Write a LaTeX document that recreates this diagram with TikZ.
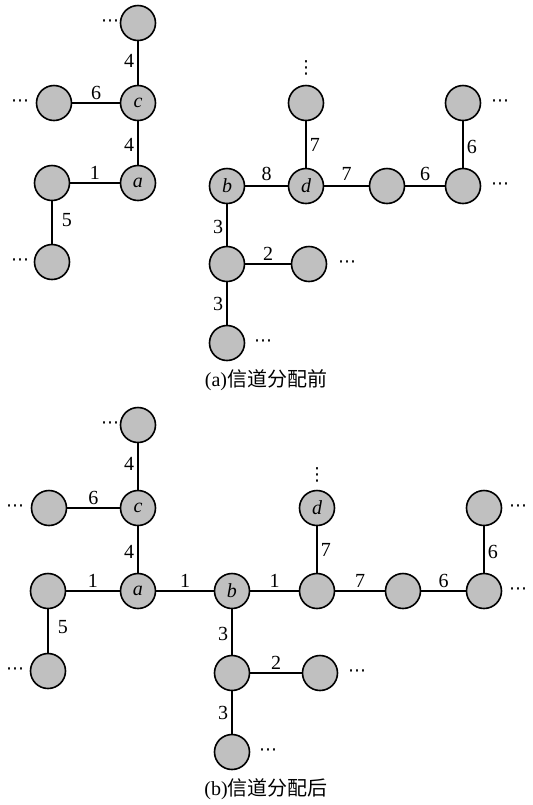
\documentclass[tikz,border=0pt]{standalone}
\usepackage{fontspec}
\setmainfont{Liberation Serif}
\newfontfamily\cjk{Noto Sans CJK SC}
\newfontfamily\symf{DejaVu Sans}
\definecolor{nodegray}{RGB}{192,192,192}
\newcommand{\hdts}{{\symf\small ⋯}}
\newcommand{\vdts}{{\symf\small ⋮}}
\begin{document}
\begin{tikzpicture}[x=0.5pt,y=-0.5pt,
  vtx/.style={circle,draw=black,line width=0.8pt,fill=nodegray,minimum size=17.5pt,inner sep=0pt,font=\itshape},
  link/.style={line width=0.8pt},
  wt/.style={font=\normalsize,inner sep=1.5pt},
  dotsn/.style={inner sep=0pt}]
\useasboundingbox (0,0) rectangle (532,805);
% ---------- (a) ----------
\node[vtx] (at) at (138,23) {};
\node[vtx] (c1) at (138,103) {c};
\node[vtx] (c1l) at (54,103) {};
\node[vtx] (a1) at (138,183) {a};
\node[vtx] (a1l) at (52,183) {};
\node[vtx] (a1lb) at (52,262) {};
\node[vtx] (b1) at (227,186) {b};
\node[vtx] (d1) at (306,186) {d};
\node[vtx] (d1t) at (306,103) {};
\node[vtx] (r1) at (387,186) {};
\node[vtx] (r2) at (463,186) {};
\node[vtx] (r2t) at (463,103) {};
\node[vtx] (b1c) at (227,264) {};
\node[vtx] (b1cr) at (309,264) {};
\node[vtx] (b1cb) at (227,343) {};
\node[dotsn] (q1) at (110,23) {\hdts};
\node[dotsn] (q2) at (20,103) {\hdts};
\node[dotsn] (q3) at (20,262) {\hdts};
\node[dotsn] (q4) at (306,68) {\vdts};
\node[dotsn] (q5) at (500,103) {\hdts};
\node[dotsn] (q6) at (500,186) {\hdts};
\node[dotsn] (q7) at (347,264) {\hdts};
\node[dotsn] (q8) at (263,343) {\hdts};
\draw[link] (at) -- node[wt,left,pos=0.45] {4} (c1);
\draw[link] (c1l) -- node[wt,above] {6} (c1);
\draw[link] (c1) -- node[wt,left,pos=0.55] {4} (a1);
\draw[link] (a1l) -- node[wt,above] {1} (a1);
\draw[link] (a1l) -- node[wt,right,xshift=3pt,pos=0.45] {5} (a1lb);
\draw[link] (b1) -- node[wt,above,yshift=1pt] {8} (d1);
\draw[link] (d1t) -- node[wt,right,pos=0.52] {7} (d1);
\draw[link] (d1) -- node[wt,above,yshift=1pt] {7} (r1);
\draw[link] (r1) -- node[wt,above,yshift=1pt] {6} (r2);
\draw[link] (r2t) -- node[wt,right,pos=0.55] {6} (r2);
\draw[link] (b1) -- node[wt,left,pos=0.55] {3} (b1c);
\draw[link] (b1c) -- node[wt,above] {2} (b1cr);
\draw[link] (b1c) -- node[wt,left,pos=0.5] {3} (b1cb);
\node (capa) at (266,380) {(a){\cjk 信道分配前}};
% ---------- (b) ----------
\node[vtx] (t2) at (138,425) {};
\node[vtx] (c2) at (138,508) {c};
\node[vtx] (c2l) at (49,508) {};
\node[vtx] (a2) at (138,591) {a};
\node[vtx] (a2l) at (48,591) {};
\node[vtx] (a2lb) at (48,671) {};
\node[vtx] (b2) at (232,591) {b};
\node[vtx] (e2) at (317,591) {};
\node[vtx] (d2) at (317,508) {d};
\node[vtx] (r3) at (403,591) {};
\node[vtx] (r4) at (484,591) {};
\node[vtx] (r4t) at (484,508) {};
\node[vtx] (b2c) at (232,673) {};
\node[vtx] (b2cr) at (320,673) {};
\node[vtx] (b2cb) at (232,752) {};
\node[dotsn] (p1) at (110,425) {\hdts};
\node[dotsn] (p2) at (15,508) {\hdts};
\node[dotsn] (p3) at (15,671) {\hdts};
\node[dotsn] (p4) at (317,475) {\vdts};
\node[dotsn] (p5) at (518,508) {\hdts};
\node[dotsn] (p6) at (518,591) {\hdts};
\node[dotsn] (p7) at (357,673) {\hdts};
\node[dotsn] (p8) at (268,752) {\hdts};
\draw[link] (t2) -- node[wt,left,pos=0.45] {4} (c2);
\draw[link] (c2l) -- node[wt,above] {6} (c2);
\draw[link] (c2) -- node[wt,left,pos=0.55] {4} (a2);
\draw[link] (a2l) -- node[wt,above] {1} (a2);
\draw[link] (a2l) -- node[wt,right,xshift=3pt,pos=0.4] {5} (a2lb);
\draw[link] (a2) -- node[wt,above] {1} (b2);
\draw[link] (b2) -- node[wt,above] {1} (e2);
\draw[link] (d2) -- node[wt,right,pos=0.5] {7} (e2);
\draw[link] (e2) -- node[wt,above] {7} (r3);
\draw[link] (r3) -- node[wt,above] {6} (r4);
\draw[link] (r4t) -- node[wt,right,pos=0.55] {6} (r4);
\draw[link] (b2) -- node[wt,left,pos=0.55] {3} (b2c);
\draw[link] (b2c) -- node[wt,above] {2} (b2cr);
\draw[link] (b2c) -- node[wt,left,pos=0.5] {3} (b2cb);
\node (capb) at (266,789) {(b){\cjk 信道分配后}};
\end{tikzpicture}
\end{document}
